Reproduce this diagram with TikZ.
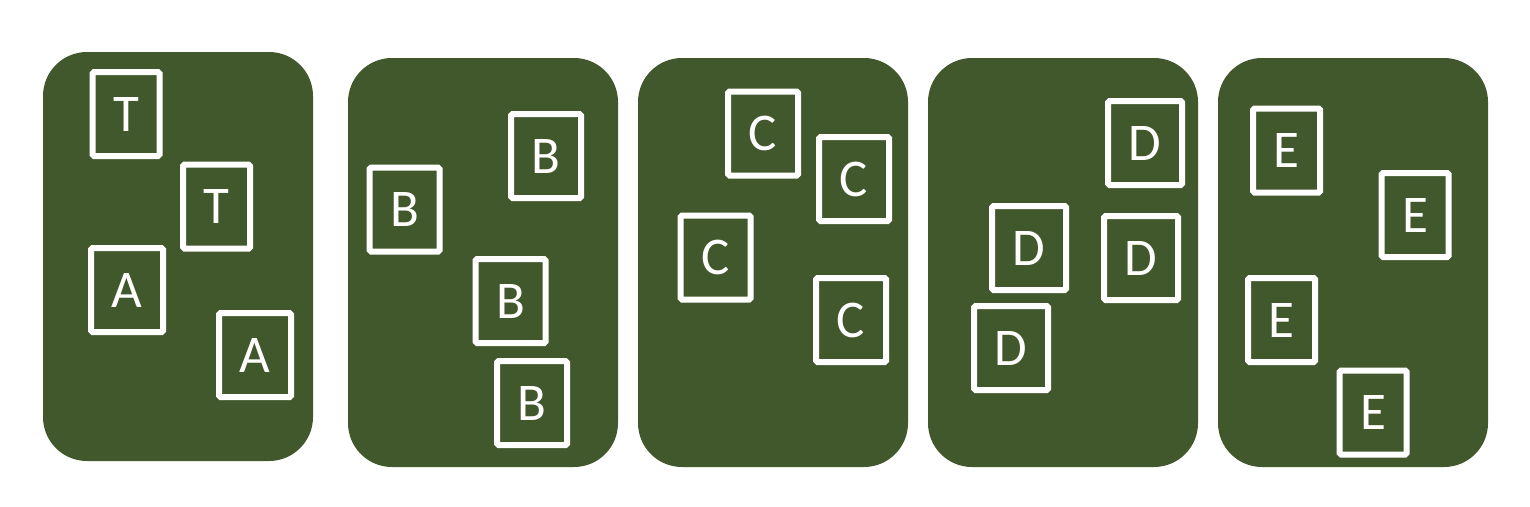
\documentclass[tikz,border=0pt]{standalone}
\usepackage{fontspec}
\setmainfont{Carlito}
\usepackage{tikz}
\definecolor{board}{HTML}{41572C}
\tikzset{
  panel/.style={fill=board, rounded corners=44pt},
  card/.style={draw=white, line width=6pt, rounded corners=1.5pt, inner sep=0pt,
    minimum width=70pt, minimum height=84pt, text=white, font=\fontsize{53}{60}\selectfont},
  narrowcard/.style={card, minimum width=67pt},
  widecard/.style={card, minimum width=74pt},
}

\begin{document}
\begin{tikzpicture}[x=1pt,y=-1pt]
  \useasboundingbox (0,0) rectangle (1530,506);
  % five boards
  \fill[panel] (43,52) rectangle (313,461);
  \foreach \px in {348,638,928,1218}
    \fill[panel] (\px,58) rectangle ++(270,409);
  % T and A
  \node[narrowcard] (t1) at (126,114) {T};
  \node[narrowcard] (t2) at (216.5,206.5) {T};
  \node[card, minimum width=72pt] (a1) at (127,290) {A};
  \node[card, minimum width=72pt] (a2) at (255,355) {A};
  % B
  \node[card] (b1) at (546,156) {B};
  \node[card] (b2) at (404.5,209.5) {B};
  \node[card] (b3) at (510.5,301) {B};
  \node[card] (b4) at (532,403) {B};
  % C
  \node[card] (c1) at (763,133.5) {C};
  \node[card] (c2) at (854,179) {C};
  \node[card] (c3) at (715.5,257.5) {C};
  \node[card] (c4) at (851,320) {C};
  % D
  \node[widecard] (d1) at (1145,143) {D};
  \node[widecard] (d2) at (1029,248) {D};
  \node[widecard] (d3) at (1141,258) {D};
  \node[widecard] (d4) at (1011,348) {D};
  % E
  \node[narrowcard] (e1) at (1286.5,150.5) {E};
  \node[narrowcard] (e2) at (1415,215) {E};
  \node[narrowcard] (e3) at (1281.5,320) {E};
  \node[narrowcard] (e4) at (1373,412.5) {E};
\end{tikzpicture}
\end{document}
